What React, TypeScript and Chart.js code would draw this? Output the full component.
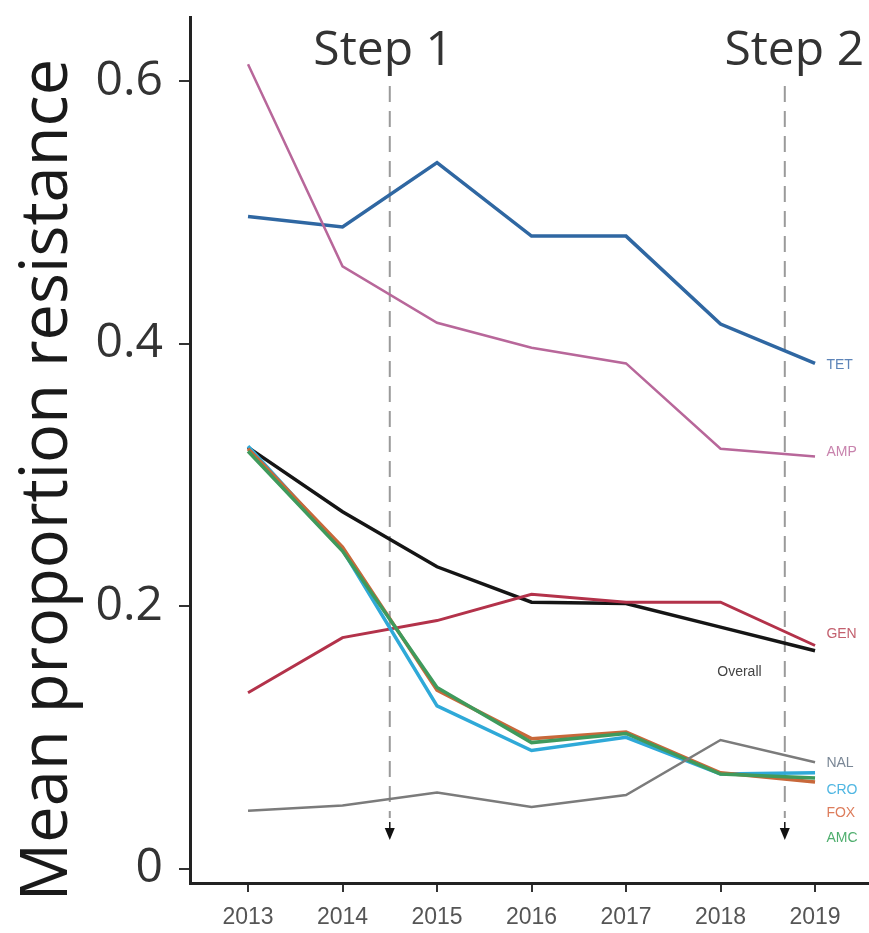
import React, { useEffect, useRef } from "react";
import { Chart, registerables } from "chart.js";

Chart.register(...registerables);

const years = [2013, 2014, 2015, 2016, 2017, 2018, 2019];
const yTicks = [0, 0.2, 0.4, 0.6];

const tet = [0.497, 0.489, 0.538, 0.482, 0.482, 0.415, 0.385];
const amp = [0.613, 0.459, 0.416, 0.397, 0.385, 0.32, 0.314];
const overall = [0.321, 0.272, 0.23, 0.203, 0.202, 0.184, 0.166];
const gen = [0.134, 0.176, 0.189, 0.209, 0.203, 0.203, 0.17];
const nal = [0.044, 0.048, 0.058, 0.047, 0.056, 0.098, 0.081];
const cro = [0.322, 0.243, 0.124, 0.09, 0.1, 0.072, 0.073];
const fox = [0.32, 0.245, 0.136, 0.099, 0.104, 0.073, 0.066];
const amc = [0.318, 0.242, 0.138, 0.096, 0.103, 0.072, 0.069];

const seriesNames = ["NAL", "AMC", "FOX", "CRO", "GEN", "AMP", "TET", "Overall"];
const seriesData = [nal, amc, fox, cro, gen, amp, tet, overall];
const seriesColors = ["#7b7b7b", "#3f9a5c", "#c8683a", "#2fa9d8", "#b3324a", "#b8679a", "#2f67a2", "#151515"];
const seriesWidths = [2.5, 3.5, 3.5, 3.5, 3, 2.5, 3.5, 3.5];

// end labels: name, x, y (data units), colour
const labelNames = ["TET", "AMP", "GEN", "NAL", "CRO", "FOX", "AMC", "Overall"];
const labelX = [2019.12, 2019.12, 2019.12, 2019.12, 2019.12, 2019.12, 2019.12, 2018.2];
const labelY = [0.384, 0.317, 0.179, 0.08, 0.06, 0.042, 0.023, 0.15];
const labelColors = ["#5d84b8", "#c883ad", "#c3606e", "#7a8796", "#4fb6e2", "#dd7d5c", "#4fae6e", "#444444"];

const stepLineX = [2014.5, 2018.68];
const stepTextX = [2014.43, 2018.78];
const stepNames = ["Step 1", "Step 2"];

const annotations = {
  id: "annotations",
  beforeDatasetsDraw(chart: any) {
    const { ctx, scales } = chart;
    const xs = scales.x;
    ctx.save();
    ctx.strokeStyle = "#9a9a9a";
    ctx.lineWidth = 2;
    ctx.setLineDash([16, 9]);
    stepLineX.forEach((v) => {
      const px = xs.getPixelForValue(v);
      ctx.beginPath();
      ctx.moveTo(px, 86);
      ctx.lineTo(px, 818);
      ctx.stroke();
    });
    ctx.restore();
  },
  afterDraw(chart: any) {
    const { ctx, scales } = chart;
    const xs = scales.x;
    const ys = scales.y;
    ctx.save();
    // arrows
    ctx.fillStyle = "#111";
    ctx.strokeStyle = "#111";
    ctx.lineWidth = 1.5;
    stepLineX.forEach((v) => {
      const px = xs.getPixelForValue(v);
      ctx.beginPath();
      ctx.moveTo(px, 822);
      ctx.lineTo(px, 832);
      ctx.stroke();
      ctx.beginPath();
      ctx.moveTo(px - 5, 828);
      ctx.lineTo(px + 5, 828);
      ctx.lineTo(px, 840);
      ctx.closePath();
      ctx.fill();
    });
    // step texts
    ctx.fillStyle = "#333";
    ctx.font = '48px "Open Sans"';
    ctx.textAlign = "center";
    ctx.textBaseline = "middle";
    stepNames.forEach((s, i) => {
      ctx.fillText(s, xs.getPixelForValue(stepTextX[i]), 51);
    });
    // series labels
    ctx.font = '14px "Liberation Sans"';
    ctx.textBaseline = "middle";
    labelNames.forEach((n, i) => {
      ctx.fillStyle = labelColors[i];
      ctx.textAlign = n === "Overall" ? "center" : "left";
      ctx.fillText(n, xs.getPixelForValue(labelX[i]), ys.getPixelForValue(labelY[i]));
    });
    // y title
    ctx.translate(48, 480);
    ctx.rotate(-Math.PI / 2);
    ctx.fillStyle = "#1a1a1a";
    ctx.font = '65px "Open Sans"';
    ctx.textAlign = "center";
    ctx.textBaseline = "middle";
    ctx.fillText("Mean proportion resistance", 0, 0);
    ctx.restore();
  },
};

export default function App() {
  const ref = useRef<HTMLCanvasElement>(null);
  useEffect(() => {
    if (!ref.current) return;
    const chart = new Chart(ref.current, {
      type: "line",
      data: {
        datasets: seriesNames.map((n, i) => ({
          label: n,
          data: years.map((y, j) => ({ x: y, y: seriesData[i][j] })),
          borderColor: seriesColors[i],
          borderWidth: seriesWidths[i],
          pointRadius: 0,
          tension: 0,
          fill: false,
        })),
      },
      options: {
        animation: false,
        responsive: false,
        devicePixelRatio: 1,
        layout: { padding: { top: 17, right: 0, left: 0, bottom: 0 } },
        plugins: { legend: { display: false }, tooltip: { enabled: false } },
        scales: {
          x: {
            type: "linear",
            min: 2012.386,
            max: 2019.571,
            afterBuildTicks: (s: any) => {
              s.ticks = years.map((v) => ({ value: v }));
            },
            afterFit: (s: any) => {
              s.height = 50;
              s.paddingLeft = 0;
              s.paddingRight = 0;
            },
            ticks: {
              callback: (v: any) => String(v),
              font: { family: "Liberation Sans", size: 23 },
              color: "#555",
              padding: 12,
              maxRotation: 0,
              autoSkip: false,
            },
            grid: { drawOnChartArea: false, drawTicks: true, tickLength: 9, color: "#333", lineWidth: 2 },
            border: { display: true, color: "#222", width: 3 },
          },
          y: {
            type: "linear",
            min: -0.011,
            max: 0.649,
            afterBuildTicks: (s: any) => {
              s.ticks = yTicks.map((v) => ({ value: v }));
            },
            afterFit: (s: any) => {
              s.width = 190;
              s.paddingTop = 0;
              s.paddingBottom = 0;
            },
            ticks: {
              callback: (v: any) => String(Math.round(v * 10) / 10),
              font: { family: "Open Sans", size: 48 },
              color: "#333",
              padding: 16,
            },
            grid: { drawOnChartArea: false, drawTicks: true, tickLength: 11, color: "#333", lineWidth: 2 },
            border: { display: true, color: "#222", width: 3 },
          },
        },
      },
      plugins: [annotations],
    });
    return () => chart.destroy();
  }, []);
  return (
    <div style={{ position: "absolute", left: 0, top: 0, width: 869, height: 933, background: "#fff" }}>
      <canvas ref={ref} width={869} height={933} style={{ display: "block", width: 869, height: 933 }} />
    </div>
  );
}
